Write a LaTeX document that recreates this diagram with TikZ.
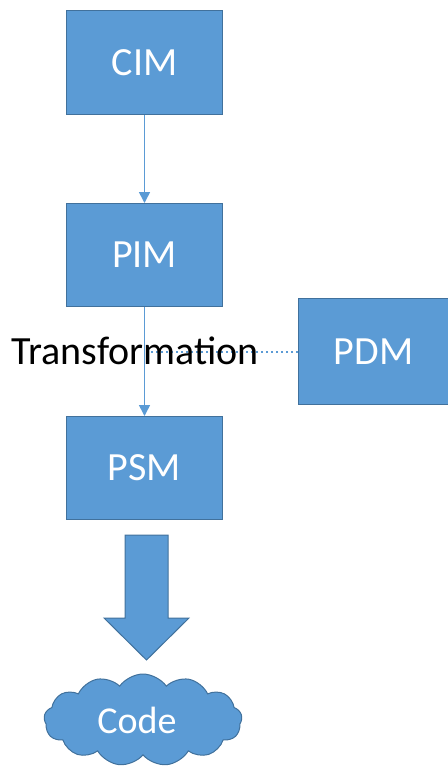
\documentclass[tikz,border=0pt]{standalone}
\usepackage{fontspec}
\setmainfont{Carlito}
\usetikzlibrary{shapes.symbols,arrows.meta,calc}
\definecolor{boxfill}{HTML}{5B9BD5}
\definecolor{boxline}{HTML}{41719C}
\tikzset{
  box/.style={draw=boxline, line width=1pt, fill=boxfill, text=white, font=\fontsize{40}{48}\selectfont, anchor=north west, inner sep=0pt},
  conn/.style={draw=boxfill, line width=1.6pt, -{Triangle[length=11pt,width=11pt]}},
  dotconn/.style={draw=boxfill, line width=1.8pt, dash pattern=on 2.5pt off 2.5pt},
}
\begin{document}
\begin{tikzpicture}[x=1pt,y=-1pt]
\useasboundingbox (0,0) rectangle (447,773);
\node[box, minimum width=156pt, minimum height=104pt] (cim) at (66,10) {CIM};
\node[box, minimum width=156pt, minimum height=103pt] (pim) at (66,203) {PIM};
\node[box, minimum width=156pt, minimum height=103pt] (psm) at (66,416) {PSM};
\node[box, minimum width=150pt, minimum height=106pt] (pdm) at (298,298) {PDM};
\draw[conn] (cim.south) -- (pim.north);
\draw[conn] (pim.south) -- (psm.north);
\coordinate (mid) at ($(pim.south)!0.41!(psm.north)$);
\draw[dotconn] (pdm.west |- mid) -- (mid);
\node[font=\fontsize{40}{48}\selectfont, text=black, inner sep=0pt, anchor=base] (tr) at (135,364) {Transformation};
\draw[draw=boxline, fill=boxfill, line width=1pt] (125,535) -- (168,535) -- (168,618) -- (189,618) -- (146.5,660) -- (104,618) -- (125,618) -- cycle;
\node[cloud, cloud puffs=13, cloud puff arc=110, aspect=2.1, draw=boxline, line width=1pt, fill=boxfill, text=white, font=\fontsize{38}{46}\selectfont, minimum width=198pt, minimum height=92pt, inner sep=0pt] (code) at (143,720) {\hspace*{-12pt}Code};
\end{tikzpicture}
\end{document}
